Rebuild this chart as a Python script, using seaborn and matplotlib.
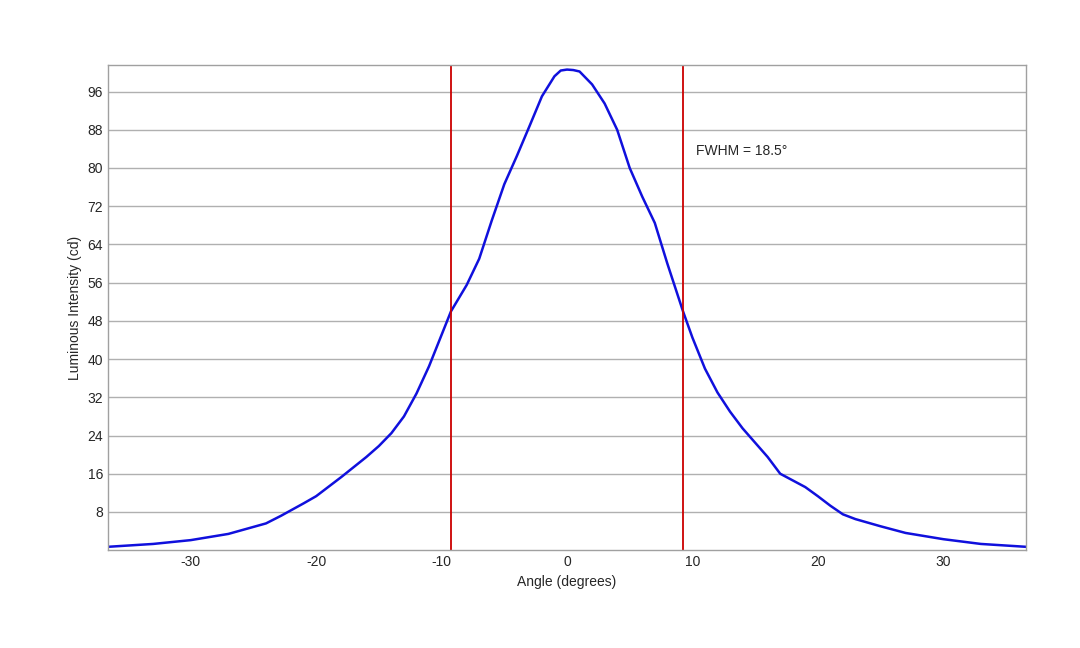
import matplotlib
matplotlib.use("Agg")
import matplotlib.pyplot as plt
import numpy as np
import seaborn as sns
import pandas as pd

angle = [-36.6, -33, -30, -27, -24, -22.8, -21, -20, -18, -16, -15, -14, -13, -12, -11, -9.25, -8, -7, -6, -5, -4, -3, -2, -1, -0.5, 0, 0.5, 1, 2, 3, 4, 5, 6, 7, 8, 9.25, 10, 11, 12, 13, 14, 15, 16, 17, 19, 20, 21, 22, 23, 25, 27, 30, 33, 36.6]
intensity = [0.7, 1.3, 2.1, 3.4, 5.6, 7.2, 9.8, 11.3, 15.3, 19.5, 21.8, 24.5, 28, 32.8, 38.5, 50, 55.5, 61, 69, 76.6, 82.5, 88.7, 95, 99.2, 100.4, 100.6, 100.5, 100.2, 97.5, 93.5, 88, 80, 74, 68.5, 60, 50, 44.5, 38, 33, 29, 25.5, 22.5, 19.5, 16, 13.2, 11.3, 9.3, 7.5, 6.5, 5, 3.6, 2.3, 1.3, 0.7]
fwhm_edges = [-9.25, 9.25]
yticks = [8, 16, 24, 32, 40, 48, 56, 64, 72, 80, 88, 96]
xticks = [-30, -20, -10, 0, 10, 20, 30]

df = pd.DataFrame({"angle": angle, "intensity": intensity})

sns.set_theme(style="white")
plt.rcParams['font.family'] = ['Liberation Sans', 'DejaVu Sans']
plt.rcParams['axes.unicode_minus'] = False
fig = plt.figure(figsize=(10.8, 6.48), dpi=100)
ax = fig.add_axes([0.1, 0.151, 0.85, 0.749])

ax.set_yticks(yticks)
ax.yaxis.grid(True, color="#b0b0b0", linewidth=1)
ax.set_axisbelow(True)
sns.lineplot(data=df, x="angle", y="intensity", color="#1010dd", linewidth=1.8, ax=ax)
for e in fwhm_edges:
    ax.axvline(e, color="#cc0000", linewidth=1.3)
ax.text(10.3, 83.5, "FWHM = 18.5°", fontsize=10, va="center")

ax.set_xlim(-36.6, 36.6)
ax.set_ylim(0, 101.6)
ax.set_xticks(xticks)
ax.tick_params(labelsize=10, length=0)
for s in ax.spines.values():
    s.set_color("#a0a0a0")
    s.set_linewidth(1)
ax.set_xlabel("Angle (degrees)", fontsize=10)
ax.set_ylabel("Luminous Intensity (cd)", fontsize=10)

fig.savefig("out.png", dpi=100)
